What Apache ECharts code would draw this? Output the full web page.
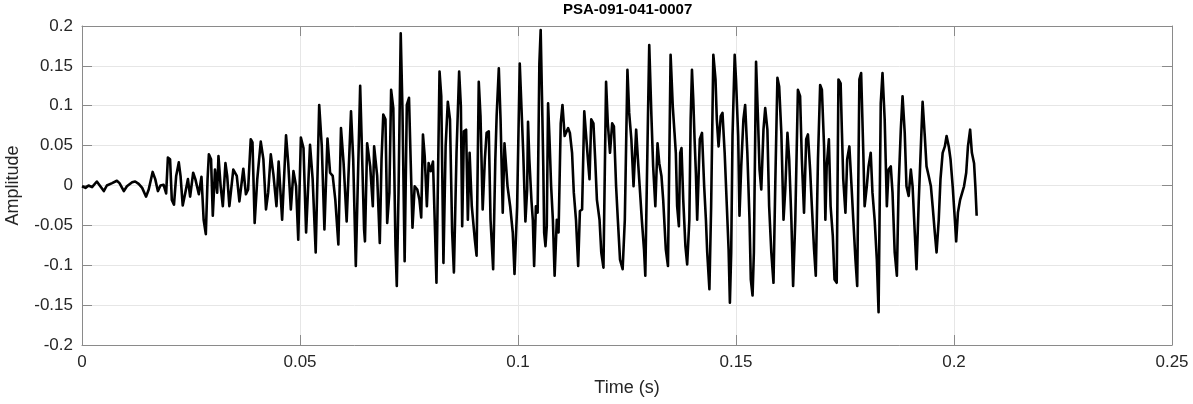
<!DOCTYPE html>
<html>
<head>
<meta charset="utf-8">
<script src="https://cdn.jsdelivr.net/npm/echarts@6/dist/echarts.min.js"></script>
<style>
html,body{margin:0;padding:0;background:#fff;}
#chart{width:1193px;height:404px;}
</style>
</head>
<body>
<div id="chart"></div>
<script>
// Time (s) / amplitude pairs
const waveOnset = [
[0,-0.001],[0.0008,-0.003],[0.0015,0.000],[0.0023,-0.002],[0.0034,0.005],[0.0042,-0.001],[0.0050,-0.007],[0.0057,0.000],[0.0069,0.003],[0.0080,0.006],[0.0086,0.003],[0.0096,-0.007],[0.0103,-0.001],[0.0115,0.004],[0.0122,0.005],[0.0130,0.002],[0.0138,-0.003],[0.0147,-0.014],[0.0153,-0.005],[0.0162,0.017],[0.0168,0.008],[0.0174,-0.007],[0.0180,0.000],[0.0187,0.001],[0.0193,-0.010],[0.0197,0.035],[0.0202,0.033],[0.0206,-0.018],[0.0211,-0.024],[0.0216,0.012],[0.0222,0.029],[0.0226,0.012],[0.0231,-0.025],[0.0237,-0.009],[0.0243,0.008],[0.0248,-0.014],[0.0255,0.016],[0.0260,0.008],[0.0268,-0.011],[0.0274,0.011],[0.0279,-0.043],[0.0284,-0.061],[0.0288,0.008],[0.0291,0.039],[0.0296,0.033],[0.0300,-0.038],[0.0305,0.020],[0.0310,-0.009],[0.0313,0.037],[0.0318,-0.001],[0.0323,-0.026],[0.0329,0.028],[0.0333,0.012],[0.0338,-0.026]
];
const waveRise = [
[0.0347,0.020],[0.0355,0.012],[0.0361,-0.020],[0.0370,0.021],[0.0376,-0.011],[0.0381,-0.005],[0.0387,0.058],[0.0391,0.054],[0.0396,-0.047],[0.0402,0.008],[0.0410,0.055],[0.0416,0.033],[0.0422,-0.030],[0.0427,-0.009],[0.0433,0.039],[0.0439,0.014],[0.0446,-0.026],[0.0451,0.030],[0.0459,-0.043],[0.0468,0.063],[0.0473,0.028],[0.0479,-0.030],[0.0485,0.018],[0.0491,-0.001],[0.0496,-0.068],[0.0502,0.060],[0.0508,0.047],[0.0514,-0.059],[0.0523,0.051],[0.0529,0.008],[0.0536,-0.084],[0.0544,0.101],[0.0550,0.049],[0.0556,-0.055],[0.0563,0.059],[0.0569,0.016],[0.0575,0.012],[0.0581,-0.018],[0.0588,-0.074],[0.0594,0.072],[0.0600,0.028],[0.0607,-0.045],[0.0617,0.093],[0.0622,0.033],[0.0628,-0.101],[0.0638,0.125],[0.0641,0.066],[0.0647,-0.055],[0.0649,-0.070],[0.0654,0.053],[0.0661,0.024],[0.0667,-0.026],[0.0670,0.049],[0.0677,0.012]
];
const waveMid = [
[0.0683,-0.072],[0.0687,0.033],[0.0691,0.089],[0.0696,0.083],[0.0700,-0.047],[0.0705,-0.009],[0.0709,0.120],[0.0714,0.097],[0.0719,-0.076],[0.0722,-0.126],[0.0726,-0.009],[0.0731,0.191],[0.0735,0.095],[0.0740,-0.095],[0.0745,0.101],[0.0750,0.110],[0.0754,0.028],[0.0758,-0.053],[0.0763,-0.001],[0.0769,-0.005],[0.0774,-0.018],[0.0778,-0.040],[0.0782,0.064],[0.0786,0.037],[0.0791,-0.026],[0.0795,0.028],[0.0800,0.018],[0.0805,0.030],[0.0810,-0.063],[0.0813,-0.122],[0.0820,0.143],[0.0824,0.112],[0.0829,-0.097],[0.0834,0.049],[0.0839,0.105],[0.0844,0.083],[0.0849,-0.059],[0.0853,-0.109],[0.0859,0.041],[0.0865,0.143],[0.0869,0.099],[0.0872,-0.051],[0.0876,0.068],[0.0881,0.070],[0.0885,-0.043],[0.0889,0.041],[0.0894,-0.026],[0.0901,-0.068],[0.0905,-0.088],[0.0910,0.130],[0.0914,0.087],[0.0919,-0.030],[0.0924,0.033],[0.0928,0.066],[0.0933,0.068],[0.0937,-0.043],[0.0943,-0.105],[0.0948,0.033],[0.0951,0.087],[0.0956,0.147],[0.0960,0.083],[0.0965,-0.034],[0.0969,0.053],[0.0976,-0.001],[0.0982,-0.026],[0.0988,-0.059],[0.0992,-0.111],[0.0998,-0.026],[0.1004,0.153],[0.1008,0.097],[0.1012,0.041],[0.1017,-0.045],[0.1021,-0.005]
];
const wavePeak = [
[0.1023,0.080],[0.1026,0.033],[0.1031,-0.020],[0.1034,-0.043],[0.1037,-0.101],[0.1041,-0.026],[0.1045,-0.034],[0.1049,0.153],[0.1052,0.195],[0.1055,0.112],[0.1058,0.024],[0.1060,-0.059],[0.1063,-0.076],[0.1066,-0.051],[0.1069,0.103],[0.1072,0.062],[0.1076,-0.001],[0.1080,-0.043],[0.1084,-0.113],[0.1089,-0.043],[0.1093,-0.059],[0.1098,0.078],[0.1102,0.101],[0.1107,0.062],[0.1110,0.066],[0.1115,0.072],[0.1119,0.066],[0.1124,0.041],[0.1128,-0.009],[0.1133,-0.043],[0.1138,-0.101],[0.1142,-0.032],[0.1147,-0.030],[0.1152,0.093],[0.1156,0.091],[0.1161,0.028],[0.1164,0.008],[0.1168,0.083],[0.1173,0.078],[0.1177,0.033],[0.1181,-0.018],[0.1187,-0.043],[0.1191,-0.084],[0.1196,-0.103],[0.1202,0.130],[0.1206,0.078],[0.1211,0.041],[0.1216,0.078],[0.1220,0.074],[0.1225,-0.001],[0.1229,-0.043],[0.1234,-0.093],[0.1240,-0.105],[0.1245,-0.043],[0.1251,0.145],[0.1255,0.091],[0.1260,0.058],[0.1265,-0.001],[0.1271,0.070],[0.1275,0.033],[0.1280,-0.009],[0.1284,-0.043],[0.1289,-0.080],[0.1292,-0.113],[0.1298,0.083],[0.1301,0.176],[0.1306,0.087],[0.1310,0.024],[0.1315,-0.026],[0.1320,0.053],[0.1324,0.028],[0.1329,0.012],[0.1333,-0.018],[0.1339,-0.080],[0.1344,-0.101],[0.1350,0.164],[0.1355,0.099],[0.1359,0.066]
];
const waveLate = [
[0.1362,0.041],[0.1365,-0.026],[0.1369,-0.051],[0.1372,0.041],[0.1375,0.047],[0.1379,-0.018],[0.1384,-0.076],[0.1388,-0.099],[0.1393,-0.043],[0.1396,0.083],[0.1399,0.145],[0.1402,0.108],[0.1405,0.058],[0.1408,0.016],[0.1411,-0.043],[0.1414,0.008],[0.1417,0.058],[0.1422,0.066],[0.1427,-0.001],[0.1431,-0.043],[0.1434,-0.084],[0.1439,-0.130],[0.1443,-0.026],[0.1448,0.164],[0.1453,0.133],[0.1456,0.083],[0.1460,0.049],[0.1465,0.087],[0.1469,0.091],[0.1474,0.041],[0.1479,-0.026],[0.1483,-0.080],[0.1486,-0.147],[0.1489,-0.084],[0.1492,0.062],[0.1497,0.164],[0.1500,0.133],[0.1505,0.062],[0.1508,-0.038],[0.1512,0.024],[0.1517,0.083],[0.1521,0.101],[0.1526,0.041],[0.1531,-0.043],[0.1534,-0.118],[0.1538,-0.138],[0.1541,-0.084],[0.1546,0.155],[0.1550,0.091],[0.1554,0.020],[0.1558,-0.005],[0.1563,0.070],[0.1567,0.097],[0.1572,0.070],[0.1576,-0.026],[0.1581,-0.084],[0.1586,-0.122],[0.1590,-0.001],[0.1595,0.135],[0.1599,0.124],[0.1604,0.066],[0.1609,-0.043],[0.1613,-0.005],[0.1618,0.066],[0.1622,0.033],[0.1627,-0.043],[0.1631,-0.126],[0.1636,-0.043],[0.1642,0.120],[0.1647,0.112],[0.1651,0.033],[0.1656,-0.034],[0.1661,0.058],[0.1665,0.064],[0.1670,0.020],[0.1674,-0.026],[0.1679,-0.080],[0.1683,-0.113],[0.1688,0.033],[0.1693,0.126],[0.1697,0.120]
];
const waveDecay = [
[0.1702,0.049],[0.1705,-0.043],[0.1708,0.024],[0.1713,0.058],[0.1717,-0.026],[0.1722,-0.063],[0.1726,-0.118],[0.1731,-0.122],[0.1735,0.133],[0.1740,0.128],[0.1743,0.066],[0.1746,0.008],[0.1751,-0.034],[0.1755,0.033],[0.1760,0.049],[0.1765,-0.001],[0.1769,-0.043],[0.1774,-0.093],[0.1778,-0.126],[0.1783,0.133],[0.1787,0.141],[0.1792,0.041],[0.1795,-0.026],[0.1800,-0.001],[0.1804,0.024],[0.1809,0.041],[0.1813,-0.009],[0.1818,-0.043],[0.1823,-0.093],[0.1827,-0.159],[0.1832,0.103],[0.1836,0.141],[0.1841,0.083],[0.1846,-0.026],[0.1850,0.020],[0.1855,0.024],[0.1859,-0.009],[0.1864,-0.084],[0.1869,-0.113],[0.1873,-0.001],[0.1878,0.070],[0.1882,0.112],[0.1887,0.066],[0.1891,-0.001],[0.1896,-0.013],[0.1901,0.020],[0.1905,-0.001],[0.1910,-0.059],[0.1914,-0.105],[0.1919,-0.022],[0.1924,0.049],[0.1928,0.105],[0.1933,0.062],[0.1937,0.024],[0.1942,0.012],[0.1947,-0.001],[0.1951,-0.026],[0.1956,-0.059],[0.1960,-0.084],[0.1965,-0.043],[0.1969,0.008],[0.1974,0.041],[0.1979,0.049],[0.1983,0.062],[0.1988,0.049],[0.1992,0.033],[0.1997,-0.001],[0.2002,-0.043],[0.2005,-0.070],[0.2009,-0.034],[0.2014,-0.018],[0.2018,-0.018],[0.2023,-0.001],[0.2028,0.016],[0.2032,0.049],[0.2037,0.070],[0.2041,0.041],[0.2046,0.028],[0.2049,-0.001],[0.2052,-0.038]
];
const xTicks = [0, 0.05, 0.1, 0.15, 0.2, 0.25];
const yTicks = [-0.2, -0.15, -0.1, -0.05, 0, 0.05, 0.1, 0.15, 0.2];
const chartTitle = 'PSA-091-041-0007';
const xName = 'Time (s)';
const yName = 'Amplitude';

const waveform = [].concat(waveOnset, waveRise, waveMid, wavePeak, waveLate, waveDecay);

const FONT = "'Liberation Sans', Arial, Helvetica, sans-serif";
const fmt = v => String(+(+v).toFixed(3));
const axisGray = '#8a8a8a';
const gridGray = '#e6e6e6';
const textCol = '#262626';

const chart = echarts.init(document.getElementById('chart'), null, {renderer: 'canvas'});
const xStep = xTicks[1] - xTicks[0];
const yStep = yTicks[1] - yTicks[0];
const baseX = {
  type: 'value', min: xTicks[0], max: xTicks[xTicks.length - 1], interval: xStep,
  axisLine: {show: true, onZero: false, lineStyle: {color: axisGray, width: 1}},
  axisTick: {show: true, inside: true, length: 10, lineStyle: {color: axisGray}},
};
const baseY = {
  type: 'value', min: yTicks[0], max: yTicks[yTicks.length - 1], interval: yStep,
  axisLine: {show: true, onZero: false, lineStyle: {color: axisGray, width: 1}},
  axisTick: {show: true, inside: true, length: 10, lineStyle: {color: axisGray}},
};
chart.setOption({
  animation: false,
  backgroundColor: '#fff',
  title: {
    text: chartTitle, left: 563, top: 2, padding: 0,
    textStyle: {fontFamily: FONT, fontSize: 15, fontWeight: 'bold', color: '#000'}
  },
  grid: {left: 82, right: 21, top: 26, bottom: 59, containLabel: false, outerBoundsMode: 'none'},
  xAxis: [
    Object.assign({}, baseX, {
      position: 'bottom',
      name: xName, nameLocation: 'middle', nameGap: 34,
      nameTextStyle: {fontFamily: FONT, fontSize: 18, color: textCol},
      axisLabel: {show: true, margin: 9, fontFamily: FONT, fontSize: 17, color: textCol, formatter: fmt},
      splitLine: {show: true, lineStyle: {color: gridGray, width: 1}}
    }),
    Object.assign({}, baseX, {
      position: 'top', axisLabel: {show: false}, splitLine: {show: false}
    })
  ],
  yAxis: [
    Object.assign({}, baseY, {
      position: 'left',
      name: yName, nameLocation: 'middle', nameGap: 60,
      nameTextStyle: {fontFamily: FONT, fontSize: 18, color: textCol},
      axisLabel: {show: true, margin: 9, fontFamily: FONT, fontSize: 17, color: textCol, formatter: fmt},
      splitLine: {show: true, lineStyle: {color: gridGray, width: 1}}
    }),
    Object.assign({}, baseY, {
      position: 'right', axisLabel: {show: false}, splitLine: {show: false}
    })
  ],
  series: [{
    type: 'line', xAxisIndex: 0, yAxisIndex: 0,
    data: waveform, showSymbol: false, symbol: 'none',
    lineStyle: {color: '#000', width: 2.6, join: 'round'},
    silent: true
  }]
});
</script>
</body>
</html>
